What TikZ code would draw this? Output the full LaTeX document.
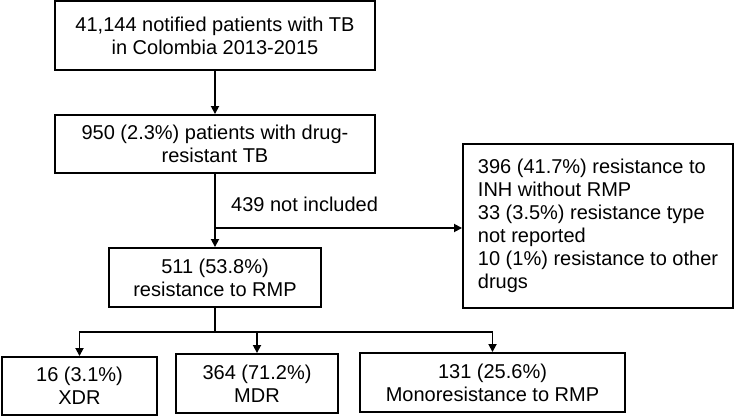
\documentclass[tikz,border=0pt]{standalone}
\usepackage{fontspec}
\setmainfont{Liberation Sans}
\usetikzlibrary{arrows.meta}

\begin{document}
\begin{tikzpicture}[
    x=1pt, y=-1pt,
    box/.style={draw, line width=1.9pt, inner sep=0pt, align=center, font=\fontsize{20}{23}\selectfont},
    arr/.style={-{Triangle[length=8pt,width=8pt]}, line width=1.7pt},
    lbl/.style={font=\fontsize{20}{23}\selectfont, inner sep=0pt}
]
\useasboundingbox (0,0) rectangle (735,417);

\node[box, minimum width=320pt, minimum height=69pt] (b1) at (215,35.5) {41,144 notified patients with TB\\in Colombia 2013-2015};
\node[box, minimum width=320pt, minimum height=58pt] (b2) at (215,144) {950 (2.3\%) patients with drug-\\resistant TB};
\node[box, minimum width=212pt, minimum height=59pt] (b3) at (215,277.5) {511 (53.8\%)\\resistance to RMP};
\node[box, align=left, minimum width=270pt, minimum height=164pt] (b4) at (598,226) {396 (41.7\%) resistance to\\INH without RMP\\33 (3.5\%) resistance type\\not reported\\10 (1\%) resistance to other\\drugs};
\node[box, minimum width=155pt, minimum height=58pt] (b5) at (79.5,386) {16 (3.1\%)\\XDR};
\node[box, minimum width=162pt, minimum height=59pt] (b6) at (257,383.5) {364 (71.2\%)\\MDR};
\node[box, minimum width=265pt, minimum height=59pt] (b7) at (492.5,382.5) {131 (25.6\%)\\Monoresistance to RMP};

\coordinate (split) at (215,228);
\coordinate (fork) at (215,332);

\draw[arr] (b1) -- (b2);
\draw[arr] (b2) -- (b3);
\draw[arr] (split) -- (split -| b4.west);
\node[lbl, anchor=base west] (l1) at (231,211) {439 not included};

\draw[line width=1.7pt] (b3) -- (fork);
\draw[arr] (fork) -| (b5);
\draw[arr] (fork) -| (b6);
\draw[arr] (fork) -| (b7);
\end{tikzpicture}
\end{document}
